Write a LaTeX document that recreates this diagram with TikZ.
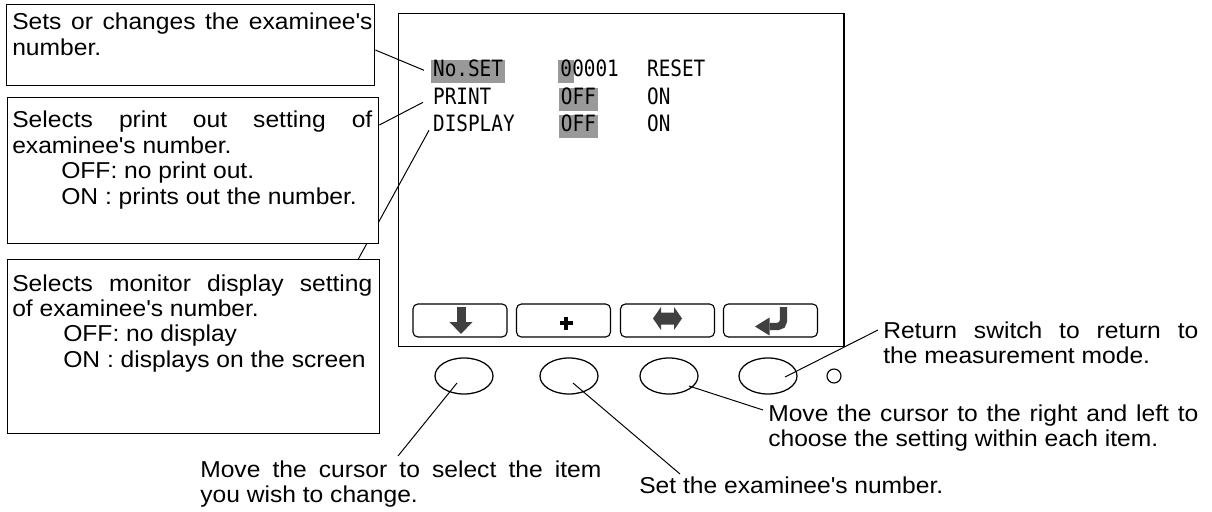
\documentclass[tikz,border=0pt]{standalone}
\usepackage{fontspec}
\setmainfont{Liberation Sans}[FakeStretch=1.07]
\newfontfamily\lcdfont{DejaVu Sans Mono}[FakeStretch=0.86]
\usetikzlibrary{positioning,shapes.geometric}
\definecolor{hlgray}{gray}{0.6}
\definecolor{icongray}{gray}{0.25}
\newcommand{\notefont}{\fontsize{16.36}{18.1}\selectfont}
\newcommand{\screenfont}{\lcdfont\fontsize{16}{18}\selectfont}
\newcommand{\ap}{\textquotesingle}
\tikzset{
  callbox/.style={draw, line width=0.9pt, fill=white, inner sep=0pt, anchor=north west},
  notetext/.style={inner sep=0pt, anchor=base west, align=justify, font=\notefont},
  lcd/.style={inner xsep=1.3pt, inner ysep=0pt, text height=12pt, text depth=4.6pt, anchor=base west, font=\screenfont},
  lcdon/.style={lcd, fill=hlgray},
  softkey/.style={draw, line width=0.8pt, rounded corners=3.5pt, minimum width=2.35cm, minimum height=0.825cm},
  keycap/.style={draw, ellipse, line width=0.9pt, minimum width=1.45cm, minimum height=0.9cm, inner sep=0pt},
  leader/.style={line width=0.7pt}
}
\begin{document}
\begin{tikzpicture}[x=0.025cm, y=-0.025cm]
  \useasboundingbox (0,0) rectangle (1212,512);

  % Display unit
  \node[draw, line width=1pt, minimum width=11.125cm, minimum height=8.325cm, anchor=north west, inner sep=0pt] (screen) at (398,13) {};

  % Setting rows on the screen
  \node[lcdon] (nsetlbl) at (431,77) {No.SET};
  \node[lcdon, inner xsep=1.5pt] (numcur) at (558,77) {0};
  \node[lcd, inner xsep=0pt] (numrest) at (572,77) {0001};
  \node[lcd] (resetlbl) at (645,77) {RESET};
  \node[lcd] (printlbl) at (431,105) {PRINT};
  \node[lcdon, inner xsep=1.2pt] (printoff) at (559,105) {OFF};
  \node[lcd] (printon) at (645,105) {ON};
  \node[lcd] (displbl) at (431,132) {DISPLAY};
  \node[lcdon, inner xsep=1.2pt] (dispoff) at (559,132) {OFF};
  \node[lcd] (dispon) at (645,132) {ON};

  % Soft keys along the bottom of the screen
  \foreach \k/\cx in {A/460,B/563.5,C/667.5,D/770.5}
    \node[softkey] (soft\k) at (\cx,320.5) {};

  \begin{scope}[shift={(softA.center)}]
    \fill[icongray] (-3.5,-13.5) rectangle (5.5,2);
    \fill[icongray] (-10.5,1.5) -- (12.5,1.5) -- (1,13.5) -- cycle;
  \end{scope}
  \begin{scope}[shift={(softB.center)}]
    \draw[line width=2.4pt] (-4,2.5) -- (9,2.5) (2.5,-4) -- (2.5,9);
  \end{scope}
  \begin{scope}[shift={(softC.center)}]
    \fill[icongray] (-14.5,-2) -- (-6.5,-13.5) -- (-6.5,-8) -- (6.5,-8) -- (6.5,-13.5) -- (14.5,-2)
      -- (6.5,9.5) -- (6.5,4) -- (-6.5,4) -- (-6.5,9.5) -- cycle;
  \end{scope}
  \begin{scope}[shift={(softD.center)}]
    \draw[icongray, line width=5.2pt, rounded corners=4pt] (13,-13.5) -- (13,6) -- (-1,6);
    \fill[icongray] (-1,-3) -- (-1,15) -- (-15.5,6) -- cycle;
  \end{scope}

  % Front panel keys and lamp
  \foreach \k/\cx in {A/464,B/569,C/669,D/768}
    \node[keycap] (key\k) at (\cx,376) {};
  \node[draw, circle, line width=0.8pt, minimum size=0.35cm, inner sep=0pt] (lamp) at (834,376) {};

  % Explanation boxes on the left
  \node[callbox, minimum width=9.2cm, minimum height=2.025cm] (setbox) at (6,4) {};
  \node[notetext, text width=9cm] (settext) at (12,30) {Sets or changes the examinee\ap s\linebreak number.};

  \node[callbox, minimum width=9.3cm, minimum height=4.35cm] (dispbox) at (7,259) {};
  \node[notetext, text width=9cm] (disptext) at (12,291) {Selects monitor display setting\linebreak of examinee\ap s number.\\
    \hspace*{1.275cm}OFF: no display\\
    \hspace*{1.275cm}ON : displays on the screen};

  % runs behind the PRINT box
  \draw[leader] ([shift={(-2,3.5)}]displbl.west) -- ([shift={(-22,0)}]dispbox.north east);

  \node[callbox, minimum width=9.275cm, minimum height=3.65cm] (printbox) at (7,97) {};
  \node[notetext, text width=9cm] (printtext) at (12,128) {Selects print out setting of\linebreak examinee\ap s number.\\
    \hspace*{1.225cm}OFF: no print out.\\
    \hspace*{1.225cm}ON : prints out the number.};

  \draw[leader] ([shift={(0,46)}]setbox.north east) -- ([shift={(-7,-1.5)}]nsetlbl.west);
  \draw[leader] ([shift={(0,28)}]printbox.north east) -- ([shift={(-8,2.5)}]printlbl.west);

  % Notes for the front panel keys
  \node[notetext, text width=10.025cm] (selecttxt) at (200,477) {Move the cursor to select the item\linebreak you wish to change.};
  \node[notetext] (numbertxt) at (639,493) {Set the examinee\ap s number.};
  \node[notetext, text width=10.75cm] (movetxt) at (768,421) {Move the cursor to the right and left to\linebreak choose the setting within each item.};
  \node[notetext, text width=7.875cm] (returntxt) at (883,338) {Return switch to return to\linebreak the measurement mode.};

  \draw[leader] ([shift={(-7,7)}]keyA.center) -- ([shift={(198,-21)}]selecttxt.base west);
  \draw[leader] ([shift={(4,7)}]keyB.center) -- ([shift={(41,-19)}]numbertxt.base west);
  \draw[leader] ([shift={(20,10)}]keyC.center) -- ([shift={(-5,-11)}]movetxt.base west);
  \draw[leader] ([shift={(17,1)}]keyD.center) -- ([shift={(-5,-8)}]returntxt.base west);
\end{tikzpicture}
\end{document}
